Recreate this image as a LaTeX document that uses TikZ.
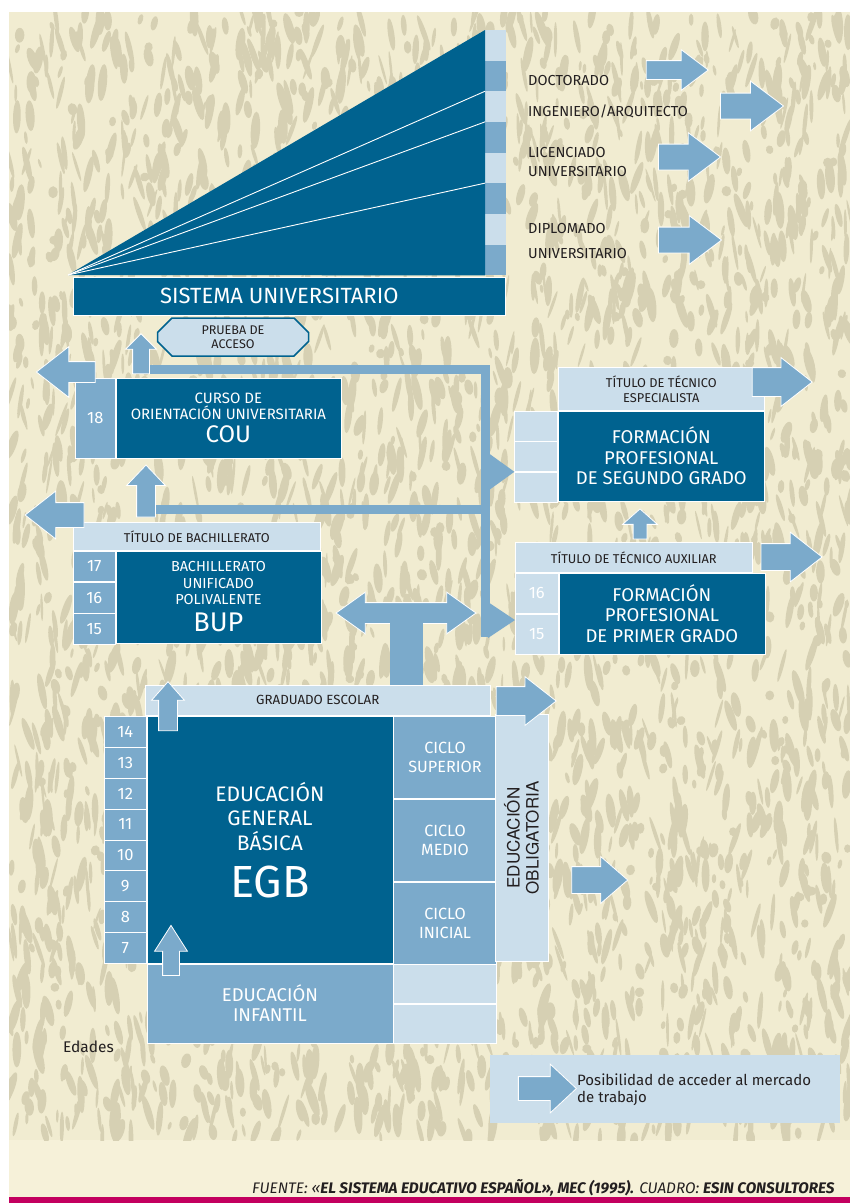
\documentclass[tikz,border=0pt]{standalone}
\usepackage{fontspec}
\setmainfont{Fira Sans}
\newfontfamily\anchafont{TeX Gyre Heros}
\usetikzlibrary{positioning,shapes.arrows,shapes.misc,arrows.meta}

\definecolor{azuloscuro}{HTML}{00628F}
\definecolor{azulmedio}{HTML}{7BAACB}
\definecolor{azulclaro}{HTML}{CBDEEB}
\definecolor{fondo}{HTML}{F1ECD1}
\definecolor{manchas}{HTML}{D6D0B3}
\definecolor{crema}{HTML}{F6F1D9}
\definecolor{rosa}{HTML}{C3005F}
\definecolor{tinta}{HTML}{231F20}

\newcommand{\fsz}[2]{\fontsize{#1}{#2}\selectfont}

\begin{document}
\begin{tikzpicture}[x=1pt,y=-1pt,
    caja/.style={inner sep=0pt, align=center, draw=white, line width=0.6pt},
    oscura/.style={caja, fill=azuloscuro, text=white},
    media/.style={caja, fill=azulmedio, text=white},
    clara/.style={caja, fill=azulclaro, text=tinta},
    edad/.style={media, minimum width=42pt, font=\fsz{16.5}{16.5}},
    rotulo/.style={text=tinta, inner sep=0pt, anchor=west, align=left, font=\fsz{14.5}{19}},
    flecha/.style n args={4}{single arrow, fill=azulmedio, draw=white, line width=0.8pt,
      inner xsep=0pt, inner ysep=#2, minimum height=#1,
      single arrow head extend=#3, single arrow tip angle=#4},
    barra/.style={draw=azulmedio, line width=9pt},
    punta/.style={-{Triangle[length=#1, width=36pt, line width=0pt]}}]
  \useasboundingbox (0,0) rectangle (850,1203);
  \fill[white] (0,0) rectangle (850,1203);
  \fill[crema] (9,1140) rectangle (850,1197); % franja inferior
  \fill[fondo] (9,12) rectangle (850,1140); % fondo con textura
  \begin{scope}
    \clip (9,12) rectangle (850,1140);
    \pgfmathsetseed{4231}
    \foreach \i in {1,...,3600} {
      \pgfmathsetmacro\px{9+841*rnd}
      \pgfmathsetmacro\py{12+1128*rnd}
      \pgfmathsetmacro\rx{1.2+3.6*rnd}
      \pgfmathsetmacro\ry{4+15*rnd}
      \pgfmathsetmacro\ang{40*rnd-20}
      \fill[manchas, rotate around={\ang:(\px,\py)}] (\px,\py) ellipse ({\rx} and {\ry});
    }
  \end{scope}
  \fill[rosa] (9,1197) rectangle (850,1203); % linea inferior

  % sistema universitario
  \coordinate (vertice) at (68,275);
  \foreach \k in {0,...,7} {
    \ifodd\k \def\tono{azulmedio}\else \def\tono{azulclaro}\fi
    \node[fill=\tono, inner sep=0pt, minimum width=21pt, minimum height=30.625pt,
      anchor=north west] (u\k) at (485,{30+30.625*\k}) {};
  }
  \fill[azuloscuro] (vertice) -- (u0.north west) -- (u7.south west) -- cycle; % triangulo
  \foreach \k in {2,3,5} \draw[white, line width=0.9pt] (vertice) -- (u\k.north west);
  \node[oscura, anchor=north west, minimum width=432pt, minimum height=38pt,
    font=\fsz{22}{22}] (sistema) at (73,277) {SISTEMA UNIVERSITARIO\hspace*{20pt}};

  \node[rotulo] (doctor) at (528,80) {DOCTORADO};
  \node[rotulo] (ingen) at (528,111) {INGENIERO/ARQUITECTO};
  \node[rotulo] (licen) at (528,161.5) {LICENCIADO\\UNIVERSITARIO};
  \node[rotulo] (diplo) at (528,240.5) {DIPLOMADO\\[6pt]UNIVERSITARIO};
  \node[flecha={62pt}{9pt}{11pt}{74}] (fdoctor) at (671,70) {};
  \node[flecha={63pt}{12.5pt}{12pt}{74}] (fingen) at (743.5,106) {};
  \node[flecha={62pt}{12.5pt}{11.5pt}{74}] (flicen) at (681,157) {};
  \node[flecha={63pt}{12.5pt}{11.5pt}{74}] (fdiplo) at (681.5,240) {};

  \node[chamfered rectangle, chamfered rectangle xsep=11pt, fill=azulclaro, draw=azuloscuro,
    line width=1.5pt, minimum width=151pt, minimum height=38pt, inner sep=0pt, align=center,
    text=tinta, font=\fsz{12.6}{13.5}] (prueba) at (233,337) {PRUEBA DE\\ACCESO};

  % COU
  \node[media, anchor=north west, minimum width=40pt, minimum height=80pt,
    font=\fsz{16.5}{16.5}] (c18) at (75,378) {18};
  \node[oscura, right=0pt of c18, minimum width=225pt, minimum height=80pt,
    font=\fsz{15}{16}] (cou) {CURSO DE\\ORIENTACIÓN UNIVERSITARIA\\[5pt]{\fsz{24}{24}COU}};

  % BUP
  \node[clara, anchor=north west, minimum width=247pt, minimum height=28pt,
    font=\fsz{12.8}{13}] (tbach) at (73,522) {TÍTULO DE BACHILLERATO};
  \node[edad, anchor=north west, minimum height=30.67pt] (b17) at (tbach.south west) {17};
  \node[edad, below=0pt of b17, minimum height=30.67pt] (b16) {16};
  \node[edad, below=0pt of b16, minimum height=30.67pt] (b15) {15};
  \node[oscura, anchor=north west, minimum width=205pt, minimum height=92pt,
    font=\fsz{14.5}{16.5}] (bup) at (b17.north east)
    {BACHILLERATO\\UNIFICADO\\POLIVALENTE\\[7pt]{\fsz{27}{27}BUP}};

  % FP segundo grado
  \node[clara, anchor=north west, minimum width=206pt, minimum height=43pt,
    font=\fsz{12.8}{15}] (tespec) at (558,367) {TÍTULO DE TÉCNICO\\ESPECIALISTA};
  \node[clara, anchor=north east, minimum width=43pt, minimum height=30pt] (e1) at (tespec.south west) {};
  \node[clara, below=0pt of e1, minimum width=43pt, minimum height=30pt] (e2) {};
  \node[clara, below=0pt of e2, minimum width=43pt, minimum height=30pt] (e3) {};
  \node[oscura, anchor=north west, minimum width=206pt, minimum height=90pt,
    font=\fsz{18.5}{20.5}] (fp2) at (e1.north east) {FORMACIÓN\\PROFESIONAL\\DE SEGUNDO GRADO};
  \node[flecha={60pt}{14pt}{10pt}{76}] (fespec) at (773,382) {};

  % FP primer grado
  \node[clara, anchor=north west, minimum width=237pt, minimum height=30pt,
    font=\fsz{12.8}{13}] (tauxil) at (515,542) {TÍTULO DE TÉCNICO AUXILIAR};
  \node[clara, anchor=north west, minimum width=43pt, minimum height=40.5pt,
    text=white, font=\fsz{16.5}{16.5}] (f16) at (tauxil.south west) {16};
  \node[clara, below=0pt of f16, minimum width=43pt, minimum height=40.5pt,
    text=white, font=\fsz{16.5}{16.5}] (f15) {15};
  \node[oscura, anchor=north west, minimum width=206pt, minimum height=81pt,
    font=\fsz{18.5}{20.5}] (fp1) at (f16.north east) {FORMACIÓN\\PROFESIONAL\\DE PRIMER GRADO};
  \node[flecha={61pt}{13pt}{11.5pt}{76}] (fauxil) at (783,557) {};
  \node[flecha={30pt}{6.5pt}{10.5pt}{97}, rotate=90] (subefp) at (640,527) {};

  % conexiones
  \coordinate (nudo) at (485.5,369);
  \coordinate (pie) at (485.5,637);
  \coordinate (nudob) at (485.5,509);
  \coordinate (entfp) at (515,620);
  \draw[barra, line join=miter] (140,369) -- (nudo) -- (pie);
  \draw[barra] (146,509) -- (nudob);
  \draw[barra, punta=25pt] (nudo |- e2.south west) -- (e2.south west);
  \draw[barra, punta=27pt] (nudo |- entfp) -- (entfp);
  \node[flecha={40pt}{8pt}{7pt}{90}, rotate=90] (aprueba) at (141,358) {};
  \node[flecha={52pt}{9pt}{10pt}{87}, rotate=90] (acou) at (146,496) {};
  \node[flecha={59pt}{10pt}{15pt}{76}, rotate=180] (salcou) at (72.5,372) {};
  \node[flecha={59pt}{12pt}{11.5pt}{76}, rotate=180] (salbup) at (62.5,515) {};

  % graduado escolar y EGB
  \node[clara, anchor=north west, minimum width=345pt, minimum height=30pt,
    font=\fsz{13.3}{13}] (grad) at (145,685) {GRADUADO ESCOLAR};
  \node[double arrow, fill=azulmedio, draw=white, line width=0.8pt, inner xsep=0pt,
    inner ysep=10pt, minimum height=140pt, double arrow head extend=10.5pt,
    double arrow tip angle=71] (doble) at (406,613) {};
  \draw[azulmedio, line width=33pt] (doble.center) -- (doble.center |- grad.north); % tronco

  \foreach \a [count=\i from 0] in {14,13,...,7}
    \node[edad, anchor=north west, minimum height=30.875pt] (g\a) at (104,{716+30.875*\i}) {\a};
  \node[oscura, anchor=north west, minimum width=246pt, minimum height=247pt,
    font=\fsz{21}{24.5}] (egb) at (g14.north east)
    {EDUCACIÓN\\GENERAL\\BÁSICA\\[14pt]{\fsz{45}{45}EGB}};
  \node[media, anchor=north west, minimum width=103pt, minimum height=82.33pt,
    font=\fsz{16.2}{19}] (csup) at (egb.north east) {CICLO\\SUPERIOR};
  \node[media, below=0pt of csup, minimum width=103pt, minimum height=82.33pt,
    font=\fsz{16.2}{19}] (cmed) {CICLO\\MEDIO};
  \node[media, below=0pt of cmed, minimum width=103pt, minimum height=82.33pt,
    font=\fsz{16.2}{19}] (cini) {CICLO\\INICIAL};
  \node[clara, rotate=90, minimum width=247pt, minimum height=53pt,
    font=\anchafont\fsz{17}{19}] (oblig) at (521.5,838) {EDUCACIÓN\\OBLIGATORIA};
  \node[flecha={60pt}{14pt}{10pt}{76}] (fgrad) at (517,701) {};
  \node[flecha={56pt}{13pt}{10pt}{82}] (foblig) at (592,880) {};

  % educacion infantil
  \node[media, anchor=north west, minimum width=246pt, minimum height=79pt,
    font=\fsz{18.5}{20}] (infantil) at (egb.south west) {EDUCACIÓN\\INFANTIL};
  \node[clara, anchor=north west, minimum width=103pt, minimum height=39.5pt] (i1) at (infantil.north east) {};
  \node[clara, below=0pt of i1, minimum width=103pt, minimum height=39.5pt] (i2) {};
  \node[flecha={49pt}{9pt}{7pt}{83}, rotate=90] (subegb) at (168,711.5) {};
  \node[flecha={50pt}{8pt}{8pt}{65}, rotate=90] (subinf) at (171,957) {};
  \node[anchor=west, inner sep=0pt, text=tinta, font=\fsz{15.5}{15}] (edades) at (63,1047) {Edades};

  % leyenda
  \node[fill=azulclaro, inner sep=0pt, anchor=north west, minimum width=350pt,
    minimum height=68pt] (leyenda) at (490,1055) {};
  \node[flecha={58pt}{11.5pt}{12.5pt}{86}] (fley) at (541,1088.5) {};
  \node[rotulo, font=\fsz{15}{17}] (textley) at (577,1090)
    {Posibilidad de acceder al mercado\\de trabajo};

  \node[anchor=west, inner sep=0pt, text=tinta, font=\itshape\fsz{15.3}{16}] (fuente) at (252,1188)
    {FUENTE: «\textbf{EL SISTEMA EDUCATIVO ESPAÑOL», MEC (1995).} CUADRO: \textbf{ESIN CONSULTORES}};
\end{tikzpicture}
\end{document}
